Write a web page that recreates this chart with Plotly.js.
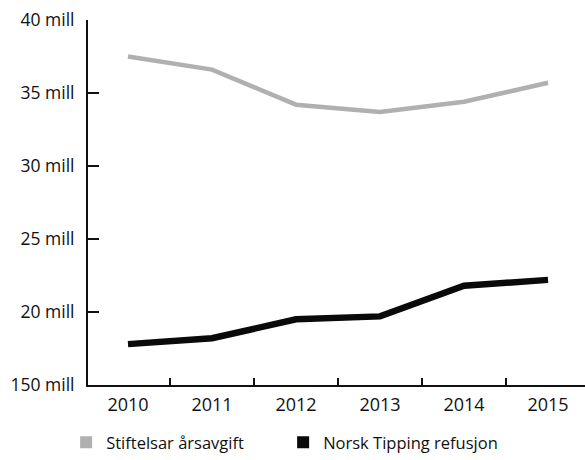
<!DOCTYPE html>
<html>
<head>
<meta charset="utf-8">
<script src="https://cdn.plot.ly/plotly-3.0.1.min.js"></script>
<style>html,body{margin:0;padding:0;background:#fff;}#chart{width:585px;height:460px;}</style>
</head>
<body>
<div id="chart"></div>
<script>
const years = ['2010', '2011', '2012', '2013', '2014', '2015'];
const stiftelsarArsavgift = [37.5, 36.6, 34.2, 33.7, 34.4, 35.7];
const norskTippingRefusjon = [17.8, 18.2, 19.5, 19.7, 21.8, 22.2];
const seriesNames = ['Stiftelsar årsavgift', 'Norsk Tipping refusjon'];
const yTickValues = [15, 20, 25, 30, 35, 40];
const yTickLabels = ['150 mill', '20 mill', '25 mill', '30 mill', '35 mill', '40 mill'];

const grey = '#b0b0b0';
const black = '#0a0a0a';
const font = 'Open Sans, Lato, sans-serif';

const traces = [
  {x: years, y: stiftelsarArsavgift, type: 'scatter', mode: 'lines', name: seriesNames[0],
   line: {color: grey, width: 4.5}, showlegend: false, hoverinfo: 'skip'},
  {x: years, y: norskTippingRefusjon, type: 'scatter', mode: 'lines', name: seriesNames[1],
   line: {color: black, width: 6.5}, showlegend: false, hoverinfo: 'skip'},
  {x: [null], y: [null], type: 'scatter', mode: 'markers', name: seriesNames[0],
   marker: {symbol: 'square', size: 12, color: grey}, showlegend: true},
  {x: [null], y: [null], type: 'scatter', mode: 'markers', name: seriesNames[1],
   marker: {symbol: 'square', size: 12, color: black}, showlegend: true}
];

const layout = {
  width: 585, height: 460,
  margin: {l: 88, r: 0, t: 20, b: 73, pad: 0},
  paper_bgcolor: '#fff', plot_bgcolor: '#fff',
  font: {family: font, size: 17, color: '#111'},
  showlegend: true,
  legend: {orientation: 'h', x: -0.044, xanchor: 'left', y: -0.158, yanchor: 'middle',
           font: {family: font, size: 16.5, color: '#111'}, entrywidth: 172, entrywidthmode: 'pixels',
           bgcolor: 'rgba(0,0,0,0)'},
  xaxis: {
    type: 'category', categoryorder: 'array', categoryarray: years,
    range: [-0.476, 5.44], fixedrange: true,
    showline: true, linecolor: '#111', linewidth: 1.5,
    showgrid: false, zeroline: false,
    ticks: 'inside', tickson: 'boundaries', ticklen: 7, tickwidth: 1.5, tickcolor: '#111',
    tickfont: {family: font, size: 18, color: '#111'}, ticklabelstandoff: 3
  },
  yaxis: {
    range: [15, 40], fixedrange: true,
    tickvals: yTickValues, ticktext: yTickLabels,
    showline: true, linecolor: '#111', linewidth: 2,
    showgrid: false, zeroline: false,
    ticks: 'inside', ticklen: 11, tickwidth: 2, tickcolor: '#111',
    tickfont: {family: font, size: 17.5, color: '#111'}, ticklabelstandoff: 8
  }
};

Plotly.newPlot('chart', traces, layout, {displayModeBar: false, staticPlot: true});
</script>
</body>
</html>
